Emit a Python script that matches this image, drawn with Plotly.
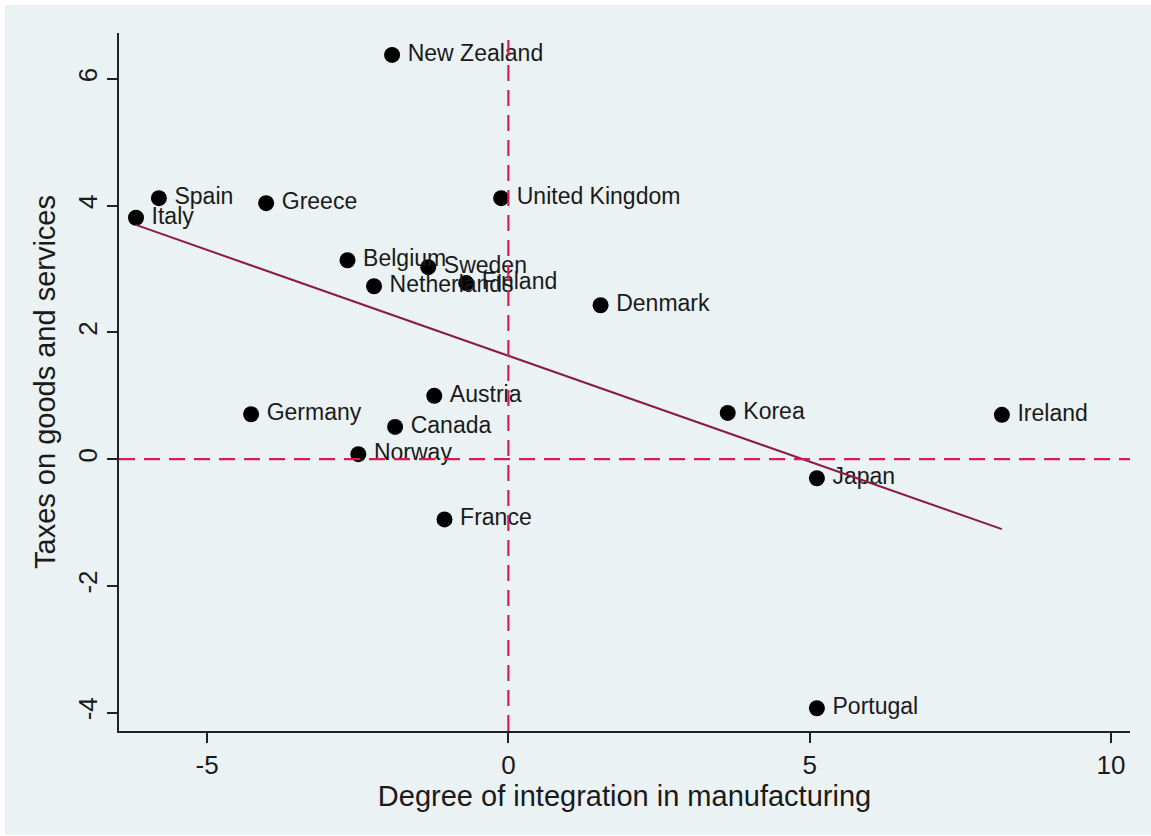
import numpy as np
import plotly.graph_objects as go

countries = ["New Zealand", "Spain", "Greece", "Italy", "United Kingdom", "Belgium",
             "Sweden", "Finland", "Netherlands", "Denmark", "Austria", "Germany",
             "Korea", "Ireland", "Canada", "Norway", "Japan", "France", "Portugal"]
integration = [-1.93, -5.80, -4.02, -6.18, -0.12, -2.67,
               -1.33, -0.70, -2.23, 1.53, -1.23, -4.27,
               3.64, 8.19, -1.88, -2.49, 5.12, -1.06, 5.12]
taxes = [6.38, 4.12, 4.04, 3.81, 4.12, 3.14,
         3.03, 2.78, 2.73, 2.43, 1.00, 0.71,
         0.73, 0.70, 0.51, 0.08, -0.30, -0.95, -3.93]

x_ticks = [-5, 0, 5, 10]
y_ticks = [-4, -2, 0, 2, 4, 6]

slope, intercept = np.polyfit(integration, taxes, 1)
x_fit = [min(integration), max(integration)]
y_fit = [intercept + slope * v for v in x_fit]

FONT = "Liberation Sans, Arial, sans-serif"

fig = go.Figure()
fig.add_trace(go.Scatter(
    x=integration, y=taxes, mode="markers+text",
    text=["\u2009" + c for c in countries],
    textposition="middle right",
    marker=dict(size=16, color="black"),
    textfont=dict(size=23, color="#1a1a1a", family=FONT),
    hoverinfo="skip", showlegend=False))
fig.add_trace(go.Scatter(
    x=x_fit, y=y_fit, mode="lines",
    line=dict(color="#8B1C40", width=2),
    hoverinfo="skip", showlegend=False))

# reference lines
fig.add_shape(type="line", xref="x", yref="paper", x0=0, x1=0, y0=0, y1=1,
              line=dict(color="#DC1A55", width=2.2, dash="16px,9px"))
fig.add_shape(type="line", xref="paper", yref="y", x0=0, x1=1, y0=0, y1=0,
              line=dict(color="#DC1A55", width=2.2, dash="16px,9px"))

# outer background with thin white border
fig.add_shape(type="rect", xref="paper", yref="paper",
              x0=(5 - 119) / 1011, x1=(1151 - 119) / 1011,
              y0=(731 - 835) / 698, y1=(731 - 5) / 698,
              fillcolor="#EAF2F3", line=dict(width=0), layer="below")

fig.update_layout(
    width=1151, height=836,
    margin=dict(l=119, r=21, t=33, b=105),
    paper_bgcolor="white", plot_bgcolor="white",
    font=dict(family=FONT, color="#1a1a1a"),
    showlegend=False,
)
fig.update_xaxes(
    range=[-6.462, 10.316], tickvals=x_ticks, ticktext=[str(v) for v in x_ticks],
    showgrid=False, zeroline=False, showline=True, linecolor="#222", linewidth=2,
    ticks="outside", ticklen=10, tickwidth=1.5, tickcolor="#222",
    tickfont=dict(size=26, family=FONT, color="#1a1a1a"),
    title=dict(text="Degree of integration in manufacturing",
               font=dict(size=29, family=FONT, color="#1a1a1a"), standoff=6),
    automargin=False)
fig.update_yaxes(
    range=[-4.289, 6.726], tickvals=y_ticks, ticktext=[str(v) for v in y_ticks],
    tickangle=-90,
    showgrid=True, gridcolor="#EEF1F1", gridwidth=1,
    zeroline=False, showline=True, linecolor="#222", linewidth=2,
    ticks="outside", ticklen=10, tickwidth=1.5, tickcolor="#222",
    tickfont=dict(size=26, family=FONT, color="#1a1a1a"),
    title=dict(text="Taxes on goods and services",
               font=dict(size=29, family=FONT, color="#1a1a1a"), standoff=8),
    automargin=False)

fig.write_html("out.html")
